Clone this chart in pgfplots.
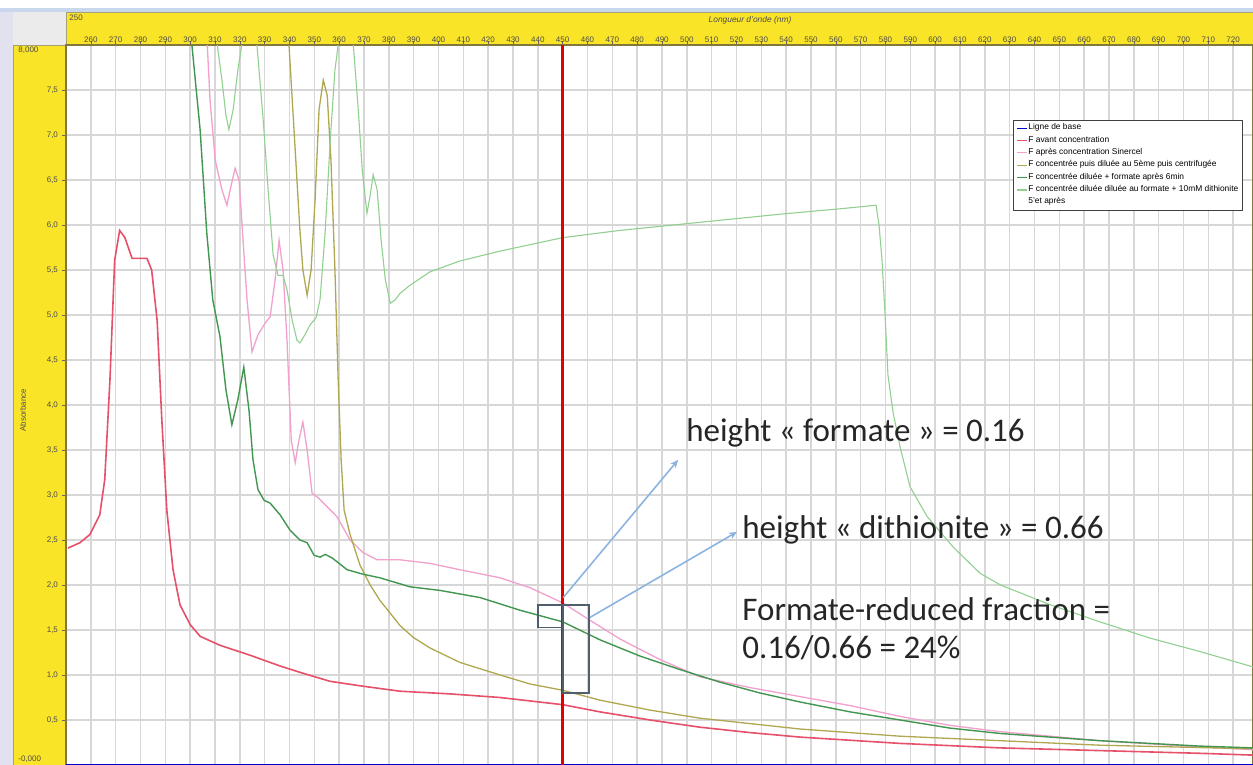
\documentclass[border=0pt]{standalone}
\usepackage{fontspec}
\setmainfont{Liberation Sans}
\newfontfamily\calfont{Carlito}
\usepackage{pgfplots}
\pgfplotsset{compat=1.18}
\usetikzlibrary{arrows.meta}

\definecolor{barYellow}{RGB}{250,228,40}
\definecolor{frameOlive}{RGB}{130,120,60}
\definecolor{lavender}{RGB}{225,225,240}
\definecolor{edgeBlue}{RGB}{200,215,235}
\definecolor{curveRed}{RGB}{230,80,105}
\definecolor{curvePink}{RGB}{242,160,205}
\definecolor{curveDkGreen}{RGB}{65,150,80}
\definecolor{curveOlive}{RGB}{175,168,80}
\definecolor{curveLtGreen}{RGB}{145,208,145}
\definecolor{boxGray}{RGB}{80,95,110}
\definecolor{arrowBlue}{RGB}{140,180,225}
\definecolor{gridGray}{RGB}{215,215,215}

\begin{document}
\begin{tikzpicture}
% window frame, in pixel units (1px = 0.5pt, y downwards)
\begin{scope}[x=0.5pt,y=-0.5pt]
  \fill[white] (0,0) rectangle (1253,765);
  \fill[edgeBlue] (0,8) rectangle (1253,12);
  \fill[lavender] (0,12) rectangle (13,765);
  \fill[black!8] (13,12) rectangle (66,45);
  \filldraw[fill=barYellow, draw=frameOlive!70, line width=0.4pt] (66,12) rectangle (1253,45);
  \filldraw[fill=barYellow, draw=frameOlive!70, line width=0.4pt] (13,45) rectangle (66,765);
  \node[anchor=north west, inner sep=0pt, font=\fontsize{4}{4}\selectfont, text=black!70] at (69,15) {250};
  \node[font=\itshape\fontsize{4.2}{4.2}\selectfont, text=black!70] at (750,20) {Longueur d'onde (nm)};
  \node[anchor=west, inner sep=0pt, font=\fontsize{4}{4}\selectfont, text=black!70] at (18,50) {8,000};
  \node[anchor=west, inner sep=0pt, font=\fontsize{4}{4}\selectfont, text=black!70] at (18,759) {-0,000};
  \node[rotate=90, font=\fontsize{4}{4}\selectfont, text=black!70] at (23,410) {Absorbance};
\end{scope}

\begin{axis}[
    at={(33pt,-382.5pt)}, anchor=south west,
    scale only axis,
    width=593.5pt, height=360pt,
    xmin=250, xmax=728,
    ymin=0, ymax=8,
    axis line style={draw=frameOlive, line width=0.8pt},
    xtick={260,270,...,720},
    xtick pos=right, xticklabel pos=right,
    ytick={0.5,1,...,7.5},
    ytick pos=left,
    tick align=outside,
    major tick length=2pt,
    tick style={draw=black!60, line width=0.3pt},
    grid=major,
    major grid style={draw=gridGray, line width=0.7pt},
    ticklabel style={font=\fontsize{4}{4}\selectfont, text=black!70},
    xticklabel style={yshift=-4.5pt},
    yticklabel style={xshift=1.5pt},
    /pgf/number format/assume math mode=true,
    yticklabel style={/pgf/number format/.cd, use comma, fixed, fixed zerofill, precision=1},
    legend style={at={(0.7978,0.8958)}, anchor=north west,
        draw=black!75, line width=0.4pt, fill=white,
        font=\fontsize{4.2}{4.6}\selectfont,
        inner xsep=1.5pt, inner ysep=1.2pt, row sep=0.8pt,
        nodes={inner sep=0.4pt}},
    legend cell align=left,
    legend image code/.code={\draw[#1, line width=0.6pt] (0pt,0pt) -- (5pt,0pt);},
]
% Ligne de base
\addplot[blue!80!black, line width=0.6pt] coordinates {(250,0.0) (728,0.0)};
\addlegendentry{Ligne de base}

% F avant concentration
\addplot[curveRed, line width=0.8pt] coordinates {
(250.8,2.41)(255.6,2.47)(259.6,2.56)(263.6,2.78)(265.6,3.17)(267.7,4.28)(269.6,5.61)
(271.6,5.94)(273.7,5.86)(276.6,5.63)(279.8,5.63)(282.6,5.63)(284.5,5.5)(286.7,4.94)
(288.6,3.83)(290.6,2.83)(293.1,2.17)(295.9,1.78)(300,1.56)(304,1.43)(312,1.33)
(324.1,1.22)(336.2,1.1)(344.2,1.03)(356.3,0.93)(368.4,0.88)(384.5,0.82)(404.7,0.79)
(424.8,0.75)(450.1,0.67)(465.1,0.59)(485.2,0.5)(505.3,0.42)(525.5,0.36)(545.6,0.31)
(585.9,0.24)(626.3,0.19)(666.4,0.16)(706.7,0.13)(728,0.11)};
\addlegendentry{F avant concentration}

% F apres concentration
\addplot[curvePink, line width=0.65pt] coordinates {
(306,8.5)(308,7.39)(310.1,6.72)(312.8,6.39)(314.8,6.22)(316.5,6.44)(318.1,6.63)
(319.7,6.5)(321.3,5.83)(322.9,5.17)(324.9,4.59)(327.3,4.78)(330.2,4.91)(332.2,4.98)
(334.2,5.39)(335.8,5.83)(337.4,5.5)(339,4.72)(340.7,3.61)(342.3,3.36)(343.8,3.61)
(345.4,3.81)(347.1,3.5)(349.1,3.02)(351.5,2.97)(354.4,2.89)(359.1,2.76)(364.4,2.5)
(369.6,2.36)(375.3,2.28)(384.5,2.28)(396.6,2.24)(408.6,2.17)(424.8,2.08)(436.9,1.97)
(450.1,1.8)(460.9,1.61)(473.1,1.4)(489.3,1.17)(505.3,0.98)(525.5,0.86)(545.6,0.76)
(565.8,0.66)(585.9,0.54)(606,0.44)(626.3,0.37)(666.4,0.27)(706.7,0.2)(728,0.17)};
\addlegendentry{F après concentration Sinercel}

% F concentree puis diluee au 5eme puis centrifugee
\addplot[curveOlive, line width=0.65pt] coordinates {
(339,8.5)(339.8,8.0)(342.3,6.83)(344.2,5.94)(345.4,5.5)(347.1,5.22)(348.7,5.5)
(350.3,6.28)(351.9,7.28)(353.6,7.61)(355.2,7.44)(356.7,6.72)(358.3,5.5)(359.6,4.28)
(360.8,3.39)(362,2.83)(364.4,2.56)(368.4,2.22)(372.5,2.0)(376.4,1.83)(384.5,1.55)
(389.7,1.42)(396.6,1.3)(408.6,1.14)(424.8,1.0)(436.9,0.9)(450.1,0.83)(465.1,0.72)
(485.2,0.61)(505.3,0.52)(525.5,0.46)(545.6,0.4)(585.9,0.32)(626.3,0.27)(666.4,0.22)
(728,0.18)};
\addlegendentry{F concentrée puis diluée au 5ème puis centrifugée}

% F concentree diluee + formate
\addplot[curveDkGreen, line width=0.7pt] coordinates {
(299.9,8.5)(300.7,8.0)(304,7.06)(306.7,5.91)(309.1,5.17)(312,4.76)(314.4,4.17)
(316.8,3.78)(319.2,4.06)(321.6,4.42)(323.7,3.94)(325.3,3.39)(327.3,3.06)(329.8,2.94)
(332.2,2.91)(336.2,2.78)(340.2,2.61)(344.2,2.5)(347.1,2.47)(349.9,2.33)(352.3,2.31)
(354.4,2.34)(357.2,2.3)(363.2,2.17)(369.6,2.12)(376.4,2.08)(388.5,1.98)(400.6,1.94)
(416.8,1.86)(432.8,1.72)(450.1,1.59)(465.1,1.39)(481.2,1.21)(497.3,1.06)(513.4,0.92)
(529.5,0.8)(545.6,0.7)(565.8,0.59)(585.9,0.5)(606,0.41)(626.3,0.35)(666.4,0.27)
(706.7,0.21)(728,0.19)};
\addlegendentry{F concentrée diluée + formate après 6min}

% F concentree diluee au formate + 10mM dithionite
\addplot[curveLtGreen, line width=0.55pt] coordinates {
(310.1,8.5)(310.9,8.0)(312.8,7.61)(314.4,7.22)(315.6,7.06)(317.3,7.28)(319.2,7.72)
(320.8,8.0)(322.1,8.3)(325.7,8.3)(326.9,8.0)(329.4,7.17)(331.4,6.39)(333.4,5.67)
(335.4,5.44)(337.4,5.44)(339,5.28)(341.1,4.94)(343,4.72)(344.2,4.69)(346.2,4.78)
(348.3,4.89)(350.7,4.97)(352.3,5.17)(354.4,5.94)(356.4,6.94)(358.3,7.72)(359.6,8.0)
(360.8,8.3)(364,8.3)(365.7,8.0)(367.7,7.28)(369.3,6.61)(371.2,6.13)(372.5,6.33)
(373.7,6.56)(375.3,6.39)(376.9,5.83)(378.6,5.39)(380.6,5.13)(382.6,5.17)(384.5,5.24)
(388.5,5.33)(396.6,5.48)(408.6,5.6)(424.8,5.71)(450.1,5.86)(473.1,5.94)(505.3,6.03)
(537.5,6.12)(561.7,6.18)(576.2,6.22)(577.4,6.0)(578.6,5.61)(579.8,5.02)(581,4.33)
(583.1,3.91)(585.9,3.53)(589.9,3.09)(596.8,2.76)(607.3,2.42)(618.1,2.13)(626.3,2.0)
(646.4,1.78)(666.4,1.59)(686.5,1.41)(706.7,1.26)(728,1.09)};
\addlegendentry{F concentrée diluée diluée au formate + 10mM dithionite}
\addlegendimage{empty legend}
\addlegendentry{5'et après}

% marker line at 450 nm
\addplot[red!90!black, line width=1.6pt, forget plot] coordinates {(450,0) (450,8)};

% boxes and arrows
\draw[boxGray, line width=0.7pt] (axis cs:440.1,1.53) rectangle (axis cs:450.2,1.78);
\draw[boxGray, line width=0.7pt] (axis cs:450.2,0.80) rectangle (axis cs:460.6,1.78);
\draw[arrowBlue, line width=0.8pt, -{Stealth[length=4pt,width=3.5pt]}] (axis cs:450.2,1.86) -- (axis cs:496.5,3.39);
\draw[arrowBlue, line width=0.8pt, -{Stealth[length=4pt,width=3.5pt]}] (axis cs:461,1.64) -- (axis cs:520.2,2.59);
\end{axis}

\begin{scope}[x=0.5pt,y=-0.5pt, every node/.style={anchor=base west, inner sep=0pt, font=\calfont\fontsize{16.5}{19}\selectfont, text=black!85}]
  \node at (686,441) {height « formate » = 0.16};
  \node at (742,538) {height « dithionite » = 0.66};
  \node at (742,620) {Formate-reduced fraction =};
  \node at (742,658) {0.16/0.66 = 24\%};
\end{scope}

\pgfresetboundingbox
\path[use as bounding box] (0,0) rectangle (626.5pt,-382.5pt);
\end{tikzpicture}
\end{document}
